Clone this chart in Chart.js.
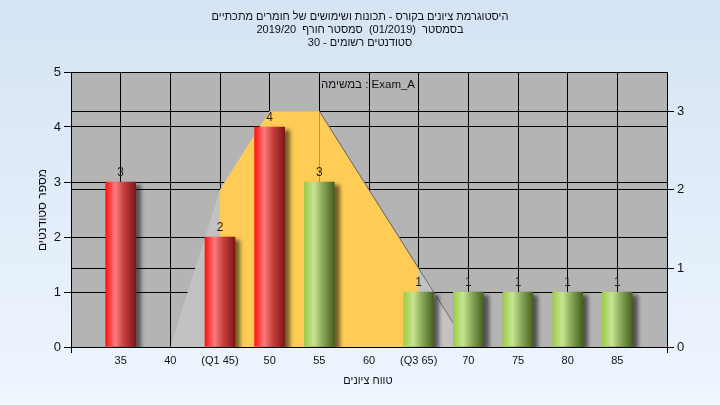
<!DOCTYPE html>
<html>
<head>
<meta charset="utf-8">
<script src="https://cdn.jsdelivr.net/npm/chart.js@4/dist/chart.umd.min.js"></script>
<style>
html,body{margin:0;padding:0;width:720px;height:405px;overflow:hidden;}
body{background:linear-gradient(180deg,#d5e3f4 0%,#eef6fe 100%);}
#c{display:block;}
</style>
</head>
<body>
<canvas id="c" width="720" height="405"></canvas>
<script>
// ---- data ----
const titleLines = [
  "היסטוגרמת ציונים בקורס - תכונות ושימושים של חומרים מתכתיים",
  "בסמסטר  (01/2019)  סמסטר חורף  2019/20",
  "סטודנטים רשומים - 30"
];
const legendText = "במשימה : Exam_A";
const xTitle = "טווח ציונים";
const yTitle = "מספר סטודנטים";
const gradeCategories = [35, 40, 45, 50, 55, 60, 65, 70, 75, 80, 85];
const tickLabels = ["35", "40", "(Q1 45)", "50", "55", "60", "(Q3 65)", "70", "75", "80", "85"];
const barGrades = [35, 45, 50, 55, 65, 70, 75, 80, 85];
const barCounts = [3, 2, 4, 3, 1, 1, 1, 1, 1];
const passGrade = 55;
const curveGrades = [40, 45, 50, 55, 65, 70];
const curveValues = [0, 2, 3, 3, 1, 0];
const q1 = 45, q3 = 65;

const barData = barGrades.map((g, i) => ({x: g, y: barCounts[i]}));
const curveData = curveGrades.map((g, i) => ({x: g, y: curveValues[i]}));
const iqrData = curveData.filter(p => p.x >= q1 && p.x <= q3);

function barGradient(context) {
  const chart = context.chart;
  const raw = context.raw;
  if (!chart.chartArea || !raw) return '#ff3030';
  const px = chart.scales.x.getPixelForValue(raw.x);
  const g = chart.ctx.createLinearGradient(px - 15, 0, px + 15, 0);
  if (raw.x < passGrade) {
    g.addColorStop(0, '#ff1212');
    g.addColorStop(0.32, '#ff7c7c');
    g.addColorStop(0.6, '#c84040');
    g.addColorStop(1, '#7e1616');
  } else {
    g.addColorStop(0, '#9ccc48');
    g.addColorStop(0.32, '#c8e492');
    g.addColorStop(0.62, '#88a858');
    g.addColorStop(1, '#46601f');
  }
  return g;
}

const edgeColor = c => (c.p0.parsed.x >= 55 ? '#6e6e6e' : 'rgba(0,0,0,0)');
const FAM = '"Liberation Sans", "DejaVu Sans", sans-serif';

const decorPlugin = {
  id: 'decor',
  beforeDraw(chart) {
    const {ctx, chartArea: a} = chart;
    ctx.save();
    ctx.fillStyle = '#b4b4b4';
    ctx.fillRect(a.left, a.top, a.right - a.left, a.bottom - a.top);
    ctx.restore();
  },
  beforeDatasetDraw(chart, args) {
    if (args.index === 0) {
      const ctx = chart.ctx;
      ctx.save();
      ctx.shadowColor = 'rgba(0,0,0,0.55)';
      ctx.shadowOffsetX = 5;
      ctx.shadowOffsetY = 3;
      ctx.shadowBlur = 4;
    }
  },
  afterDatasetDraw(chart, args) {
    if (args.index === 0) chart.ctx.restore();
  },
  afterDraw(chart) {
    const {ctx, chartArea: a} = chart;
    ctx.save();
    // frame
    ctx.strokeStyle = '#000';
    ctx.lineWidth = 1;
    ctx.beginPath();
    ctx.moveTo(a.left + 0.5, a.bottom + 6);
    ctx.lineTo(a.left + 0.5, a.top + 0.5);
    ctx.lineTo(a.right + 0.5, a.top + 0.5);
    ctx.lineTo(a.right + 0.5, a.bottom + 6);
    ctx.stroke();
    // bar value labels
    const meta = chart.getDatasetMeta(0);
    ctx.fillStyle = '#1e1e1e';
    ctx.font = '12px ' + FAM;
    ctx.textAlign = 'center';
    ctx.textBaseline = 'bottom';
    meta.data.forEach((el, i) => {
      ctx.fillText(String(barCounts[i]), el.x, el.y - 3);
    });
    // titles
    ctx.fillStyle = '#101018';
    ctx.textBaseline = 'middle';
    ctx.font = '11px ' + FAM;
    titleLines.forEach((t, i) => ctx.fillText(t, 360, 17 + i * 13));
    ctx.font = '11.5px ' + FAM;
    ctx.fillText(legendText, 368, 85);
    ctx.font = '11px ' + FAM;
    ctx.fillText(xTitle, 368, 381);
    ctx.font = '12px ' + FAM;
    ctx.translate(43, 210);
    ctx.rotate(-Math.PI / 2);
    ctx.fillText(yTitle, 0, 0);
    ctx.restore();
  }
};

const tickFont = {family: FAM, size: 13};

new Chart(document.getElementById('c'), {
  type: 'bar',
  data: {
    datasets: [
      {
        type: 'bar',
        data: barData,
        xAxisID: 'x', yAxisID: 'y',
        barThickness: 30,
        backgroundColor: barGradient,
        borderWidth: 0,
        order: 0
      },
      {
        type: 'line',
        data: iqrData,
        xAxisID: 'x', yAxisID: 'y2',
        fill: 'origin',
        backgroundColor: '#ffcc55',
        borderWidth: 1,
        segment: {borderColor: edgeColor},
        pointRadius: 0,
        tension: 0,
        order: 1
      },
      {
        type: 'line',
        data: curveData,
        xAxisID: 'x', yAxisID: 'y2',
        fill: 'origin',
        backgroundColor: '#c2c2c2',
        borderWidth: 1,
        segment: {borderColor: edgeColor},
        pointRadius: 0,
        tension: 0,
        order: 2
      }
    ]
  },
  options: {
    responsive: false,
    animation: false,
    events: [],
    layout: {padding: {top: 72, left: 0, right: 0, bottom: 0}},
    plugins: {legend: {display: false}, title: {display: false}, tooltip: {enabled: false}},
    scales: {
      x: {
        type: 'linear',
        position: 'bottom',
        offset: false,
        min: 30, max: 90,
        afterBuildTicks: s => { s.ticks = gradeCategories.map(v => ({value: v})); },
        afterFit: s => { s.height = 58; },
        ticks: {
          autoSkip: false, maxRotation: 0, padding: 7,
          color: '#111',
          font: {family: FAM, size: 11},
          callback: v => { const i = gradeCategories.indexOf(v); return i >= 0 ? tickLabels[i] : ''; }
        },
        grid: {color: '#000', lineWidth: 1, drawTicks: false, offset: false},
        border: {display: true, color: '#000'}
      },
      y: {
        position: 'left',
        min: 0, max: 5,
        afterFit: s => { s.width = 71; },
        ticks: {stepSize: 1, padding: 3, color: '#111', font: tickFont},
        grid: {color: '#000', lineWidth: 1, tickLength: 7},
        border: {display: true, color: '#000'}
      },
      y2: {
        position: 'right',
        min: 0, max: 3.5,
        afterBuildTicks: s => { s.ticks = [0, 1, 2, 3].map(v => ({value: v})); },
        afterFit: s => { s.width = 53; },
        ticks: {padding: 3, color: '#111', font: tickFont},
        grid: {color: '#000', lineWidth: 1, tickLength: 7},
        border: {display: true, color: '#000'}
      }
    }
  },
  plugins: [decorPlugin]
});
</script>
</body>
</html>
